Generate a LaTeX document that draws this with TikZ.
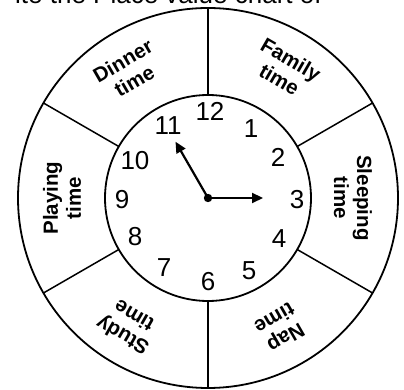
\documentclass[tikz,border=0pt]{standalone}
\usepackage{fontspec}
\setmainfont{Liberation Sans}
\usetikzlibrary{arrows.meta}
\begin{document}
\begin{tikzpicture}[x=1pt,y=1pt,
  ring/.style={line width=1.8pt},
  divider/.style={line width=1.5pt},
  sector/.style={font=\bfseries\fontsize{20.5}{23}\selectfont, align=center, inner sep=0pt},
  numeral/.style={font=\fontsize{26}{26}\selectfont, inner sep=0pt},
  hand/.style={line width=2.2pt, -{Triangle[length=11pt,width=10pt]}}]
\useasboundingbox (-208,-192) rectangle (196,198);
\node[anchor=base west, font=\fontsize{26}{26}\selectfont, inner sep=0pt] (title) at (-193,194) {ite the Place value chart of};
\coordinate (c) at (0,0);
\draw[ring] (c) circle[radius=190];
\draw[ring] (c) circle[radius=103];
\foreach \a/\k in {90/1,30/2,-30/3,-90/4,-150/5,150/6} {
  \coordinate (in\k) at (\a:103);
  \coordinate (out\k) at (\a:190);
  \draw[divider] (in\k) -- (out\k);
}
\node[sector, rotate=30] (dinner) at (122:150) {Dinner\\time};
\node[sector, rotate=-30] (family) at (59:150) {Family\\time};
\node[sector, rotate=-90] (sleeping) at (0:145) {Sleeping\\time};
\node[sector, rotate=-150] (nap) at (-61:149) {Nap\\time};
\node[sector, rotate=150] (study) at (-122:151) {Study\\time};
\node[sector, rotate=90] (playing) at (180:146) {Playing\\time};
\foreach \n/\x/\y in {12/2/87,1/43/69,2/70/41,3/89/-2,4/71/-41,5/41/-73,6/0/-84,7/-44/-70,8/-73/-39,9/-86/-2,10/-73/37,11/-40/72}
  \node[numeral] (num\n) at (\x,\y) {\n};
\coordinate (hour) at (0:55);
\coordinate (minute) at (120:65);
\draw[hand] (c) -- (hour);
\draw[hand] (c) -- (minute);
\fill (c) circle[radius=4.2];
\end{tikzpicture}
\end{document}
